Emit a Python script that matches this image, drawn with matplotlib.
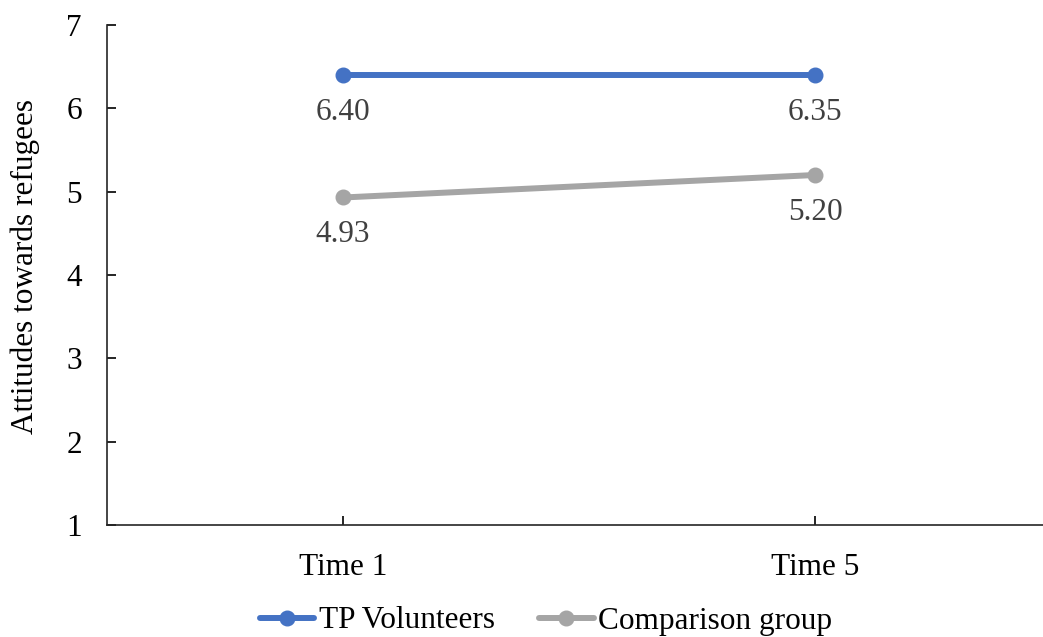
import matplotlib
matplotlib.use("Agg")
import matplotlib.pyplot as plt

plt.rcParams['font.family'] = ['Liberation Serif', 'DejaVu Serif']

categories = ["Time 1", "Time 5"]
tp_volunteers = [6.40, 6.40]
tp_labels = ["6.40", "6.35"]
comparison = [4.93, 5.20]
comp_labels = ["4.93", "5.20"]

W, H = 1043, 637
fs = 22.5
fig = plt.figure(figsize=(W / 100, H / 100), dpi=100)
ax = fig.add_axes([107 / W, 1 - 525 / H, (1051 - 107) / W, 500 / H])

x = list(range(len(categories)))
ax.plot(x, tp_volunteers, '-o', color='#4472C4', linewidth=4.3, markersize=10.5,
        label="TP Volunteers", solid_capstyle='round')
ax.plot(x, comparison, '-o', color='#A5A5A5', linewidth=4.3, markersize=10.5,
        label="Comparison group", solid_capstyle='round')

for xi, yi, t in zip(x, tp_volunteers, tp_labels):
    ax.annotate(t, (xi, yi), xytext=(0, -27), textcoords='offset points',
                ha='center', va='center', fontsize=fs, color='#404040')
for xi, yi, t in zip(x, comparison, comp_labels):
    ax.annotate(t, (xi, yi), xytext=(0, -27), textcoords='offset points',
                ha='center', va='center', fontsize=fs, color='#404040')

ax.set_xlim(-0.5, 1.5)
ax.set_ylim(1, 7)
ax.set_yticks(range(1, 8))
ax.set_xticks(x)
ax.set_xticklabels(categories)
ax.tick_params(direction='in', length=6.5, width=1.2, labelsize=fs, colors='black')
ax.tick_params(axis='y', pad=18)
ax.tick_params(axis='x', pad=20)
ax.spines['top'].set_visible(False)
ax.spines['right'].set_visible(False)
ax.spines['left'].set_linewidth(1.2)
ax.spines['bottom'].set_linewidth(1.2)
ax.spines['left'].set_color('#262626')
ax.spines['bottom'].set_color('#262626')

fig.text(25 / W, 1 - 266 / H, "Attitudes towards refugees", rotation=90,
         ha='center', va='center', fontsize=fs)

fig.legend(loc='center', bbox_to_anchor=(546 / W, 1 - 621 / H), ncol=2,
           frameon=False, fontsize=fs, handlelength=1.75, handletextpad=0.15,
           columnspacing=1.4, borderaxespad=0)

fig.savefig("out.png", dpi=100)
